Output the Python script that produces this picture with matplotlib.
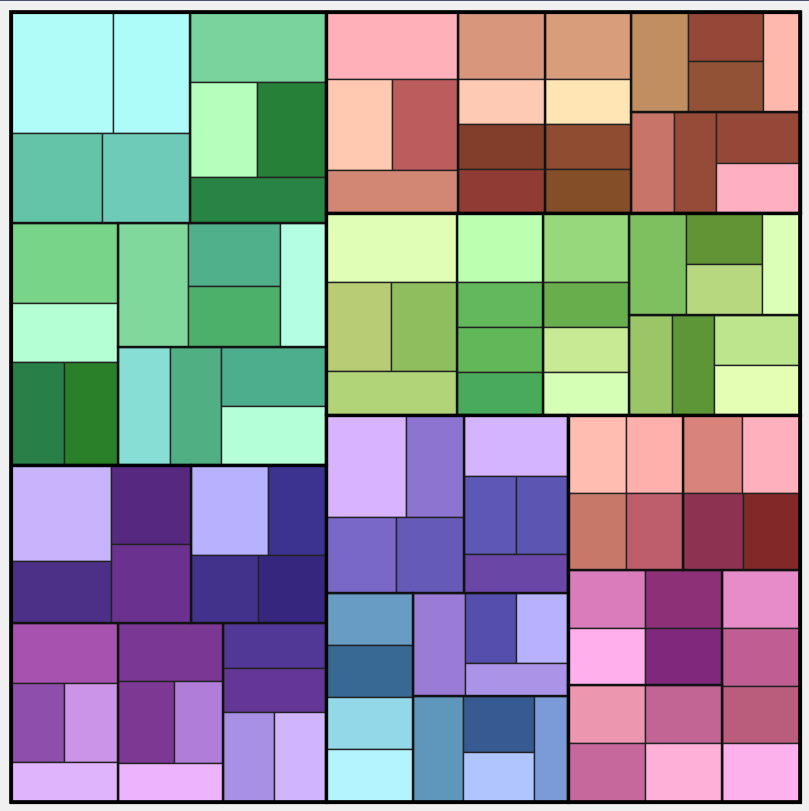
import matplotlib
matplotlib.use("Agg")
import matplotlib.pyplot as plt
from matplotlib.patches import Rectangle

# ---------------- data: leaf values (per sub-group) and leaf colours ----------------
g1_values = [[1252, 934, 826, 789], [963, 639, 653, 626], [860, 634, 553, 552],
             [868, 580, 556, 564], [619, 603, 624, 615]]
g1_colors = [["#b0fcf8", "#aefcf9", "#64c4a8", "#6ecbb8"],
             ["#78d49c", "#b4ffbc", "#268038", "#288444"],
             ["#78d488", "#b4ffd4", "#288048", "#2a8028"],
             ["#80d89c", "#50b08c", "#4caf6a", "#b4ffe4"],
             ["#86ded4", "#50b084", "#4cae8c", "#b4ffd8"]]

g2_values = [[971, 619, 630, 623], [698, 519, 458, 458], [652, 425, 424, 421],
             [614, 462, 397, 400], [471, 455, 460, 461]]
g2_colors = [["#c8b4fc", "#4c3088", "#562880", "#6a328e"],
             ["#b8b2fe", "#3c3290", "#42328c", "#36267e"],
             ["#a852b0", "#8e4eac", "#cc94e8", "#e0b4fc"],
             ["#7a3894", "#7c3892", "#b07ed8", "#ecb4fc"],
             ["#523896", "#643696", "#a890e4", "#d0b4fc"]]

g3_values = [[893, 603, 595, 562], [590, 392, 392, 380], [583, 387, 387, 376],
             [577, 374, 378, 373], [442, 426, 435, 419]]
g3_colors = [["#ffb0b8", "#ffc8b0", "#bc5c5c", "#d28674"],
             ["#d8967c", "#ffcab4", "#823e2a", "#903c34"],
             ["#d89e7c", "#ffe4b4", "#904c30", "#844e28"],
             ["#c08e60", "#964838", "#925236", "#ffb8ac"],
             ["#c87468", "#964a38", "#964838", "#ffb0c0"]]

g4_values = [[908, 581, 585, 573], [594, 386, 386, 366], [598, 388, 388, 369],
             [583, 390, 383, 389], [434, 421, 436, 428]]
g4_colors = [["#e0ffb4", "#b8cc74", "#8ebe5e", "#b2d478"],
             ["#bcffb0", "#62b85a", "#62b858", "#48aa5a"],
             ["#98d87c", "#68ae4c", "#c8ea94", "#d4ffb4"],
             ["#7ec060", "#629436", "#b8d880", "#dcffb8"],
             ["#9ac668", "#5c9636", "#bce68e", "#e4ffb4"]]

g5_values = [[815, 593, 526, 513], [639, 410, 403, 401], [458, 450, 455, 454],
             [542, 360, 365, 339], [529, 398, 349, 355]]
g5_colors = [["#d8b4fe", "#8c74d0", "#7a68c8", "#665ab8"],
             ["#d4b4fe", "#5d57b5", "#5c56b3", "#6a46a6"],
             ["#689cc4", "#386894", "#92d8e8", "#b4f4fe"],
             ["#9a7cd6", "#544eac", "#b8b2fe", "#aa94e8"],
             ["#5e96bc", "#365a92", "#b0c4fe", "#7a9ad8"]]

g6_values = [[452, 446, 441, 436], [462, 460, 458, 442], [453, 450, 438, 435],
             [460, 455, 448, 457], [451, 447, 450, 446]]
g6_colors = [["#ffbcb0", "#ffb0ac", "#c87868", "#be5e6c"],
             ["#d8847c", "#ffb0bc", "#8e3252", "#822828"],
             ["#da7cbc", "#8e3078", "#ffb0ec", "#80287c"],
             ["#e68cc8", "#c05e94", "#ba5c7c", "#fcb0ec"],
             ["#ec96b0", "#c26494", "#c6689c", "#ffb0d8"]]

# ---------------- nesting of the slice/dice tiling ----------------
# ("h", [...]) children side by side, ("v", [...]) children stacked;
# every size is proportional to the summed values.
ROWS_2X2 = ("v", [("h", [0, 1]), ("h", [2, 3])])
COLS_2X2 = ("h", [("v", [0, 1]), ("v", [2, 3])])
TOP_PAIR_BOTTOM = ("v", [0, ("h", [1, 2]), 3])
STACK_4 = ("v", [0, 1, 2, 3])
TWO_ROWS_PAIR = ("v", [0, 1, ("h", [2, 3])])
COL_PAIR_COL = ("h", [0, ("v", [1, 2]), 3])
TWO_COLS_PAIR = ("h", [0, 1, ("v", [2, 3])])
COL_PAIRROW = ("h", [0, ("v", [("h", [1, 2]), 3])])

groups = [
    (g1_values, g1_colors, ("v", [("h", [0, 1]), ("h", [2, ("v", [3, 4])])]),
     [ROWS_2X2, TOP_PAIR_BOTTOM, TWO_ROWS_PAIR, COL_PAIR_COL, TWO_COLS_PAIR]),
    (g2_values, g2_colors, ("v", [("h", [0, 1]), ("h", [2, 3, 4])]),
     [COLS_2X2, ROWS_2X2, TOP_PAIR_BOTTOM, TOP_PAIR_BOTTOM, TWO_ROWS_PAIR]),
    (g3_values, g3_colors, ("h", [0, 1, 2, ("v", [3, 4])]),
     [TOP_PAIR_BOTTOM, STACK_4, STACK_4, COL_PAIR_COL, TWO_COLS_PAIR]),
    (g4_values, g4_colors, ("h", [0, 1, 2, ("v", [3, 4])]),
     [TOP_PAIR_BOTTOM, STACK_4, STACK_4, COL_PAIR_COL, TWO_COLS_PAIR]),
    (g5_values, g5_colors, ("v", [("h", [0, 1]), ("h", [2, ("v", [3, 4])])]),
     [ROWS_2X2, TOP_PAIR_BOTTOM, STACK_4, COL_PAIRROW, COL_PAIR_COL]),
    (g6_values, g6_colors, ("v", [("h", [0, 1]), ("h", [("v", [2, 4]), 3])]),
     [ROWS_2X2, ROWS_2X2, ROWS_2X2, STACK_4, ROWS_2X2]),
]
TOP_LAYOUT = ("h", [("v", [0, 1]), ("v", [2, 3, ("h", [4, 5])])])


def total(node, weight):
    if isinstance(node, int):
        return weight[node]
    return sum(total(k, weight) for k in node[1])


def place(node, weight, x, y, w, h, out):
    if isinstance(node, int):
        out[node] = (x, y, w, h)
        return
    d, kids = node
    tot = sum(total(k, weight) for k in kids)
    pos = x if d == "h" else y
    for k in kids:
        f = total(k, weight) / tot
        if d == "h":
            place(k, weight, pos, y, w * f, h, out)
            pos += w * f
        else:
            place(k, weight, x, pos, w, h * f, out)
            pos += h * f


# ---------------- figure ----------------
W, H = 809, 811
fig = plt.figure(figsize=(W / 100, H / 100), dpi=100, facecolor="#f0f0f0")
ax = fig.add_axes([10.5 / W, 9.5 / H, 790 / W, 790 / H])
ax.set_xlim(0, 1)
ax.set_ylim(1, 0)
ax.axis("off")

group_weights = [sum(sum(v) for v in g[0]) for g in groups]
group_rects = {}
place(TOP_LAYOUT, group_weights, 0, 0, 1, 1, group_rects)

sub_outlines = []
for gi, (vals, cols, sub_layout, leaf_layouts) in enumerate(groups):
    gx, gy, gw, gh = group_rects[gi]
    sub_w = [sum(v) for v in vals]
    sub_rects = {}
    place(sub_layout, sub_w, gx, gy, gw, gh, sub_rects)
    for si in range(len(vals)):
        sx, sy, sw, sh = sub_rects[si]
        leaf_rects = {}
        place(leaf_layouts[si], vals[si], sx, sy, sw, sh, leaf_rects)
        for li in range(len(vals[si])):
            lx, ly, lw_, lh = leaf_rects[li]
            ax.add_patch(Rectangle((lx, ly), lw_, lh, facecolor=cols[si][li],
                                   edgecolor="#222222", linewidth=1.0, clip_on=False))
        sub_outlines.append(sub_rects[si])

for (sx, sy, sw, sh) in sub_outlines:
    ax.add_patch(Rectangle((sx, sy), sw, sh, fill=False, edgecolor="#111111",
                           linewidth=1.6, clip_on=False))
for gi in range(len(groups)):
    gx, gy, gw, gh = group_rects[gi]
    ax.add_patch(Rectangle((gx, gy), gw, gh, fill=False, edgecolor="#000000",
                           linewidth=2.3, clip_on=False))
ax.add_patch(Rectangle((0, 0), 1, 1, fill=False, edgecolor="#000000",
                       linewidth=2.6, clip_on=False))

fig.add_artist(Rectangle((0, 1 - 1.2 / H), 1, 1.2 / H, transform=fig.transFigure,
                         facecolor="#4a5270", edgecolor="none"))

fig.savefig("out.png", dpi=100, facecolor=fig.get_facecolor())
